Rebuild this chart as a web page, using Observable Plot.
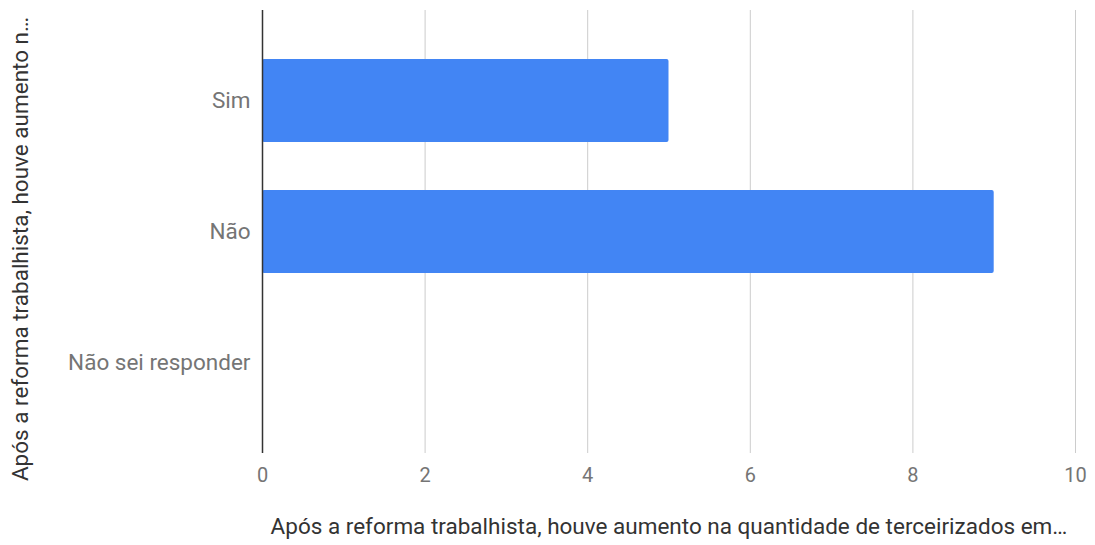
<!DOCTYPE html>
<html>
<head>
<meta charset="utf-8">
<script src="https://cdn.jsdelivr.net/npm/d3@7"></script>
<script src="https://cdn.jsdelivr.net/npm/@observablehq/plot@0.6"></script>
<style>
  html, body { margin: 0; padding: 0; background: #fff; }
  #chart svg { display: block; }
</style>
</head>
<body>
<div id="chart"></div>
<script>
const categories = ["Sim", "Não", "Não sei responder"];
const counts = [5, 9, 0];
const xTicks = [0, 2, 4, 6, 8, 10];
const xTitle = "Após a reforma trabalhista, houve aumento na quantidade de terceirizados em…";
const yTitle = "Após a reforma trabalhista, houve aumento n…";

const data = categories.map((c, i) => ({category: c, value: counts[i]}));

const chart = Plot.plot({
  width: 1095,
  height: 545,
  marginLeft: 262,
  marginRight: 20,
  marginTop: 10,
  marginBottom: 92,
  style: {fontFamily: "Roboto, 'Noto Sans', sans-serif", background: "#fff"},
  x: {domain: [0, 10], ticks: xTicks, label: null},
  y: {domain: categories, padding: 0.37, label: null},
  marks: [
    Plot.gridX(xTicks.filter(t => t !== 0), {stroke: "#cccccc", strokeOpacity: 1, strokeWidth: 1}),
    Plot.barX(data.filter(d => d.value > 0), {x: "value", y: "category", fill: "#4285f4", rx: 2}),
    Plot.ruleX([0], {stroke: "#333333", strokeWidth: 1.5}),
    Plot.axisX({ticks: xTicks, tickSize: 0, tickPadding: 14, fontSize: 20, fill: "#757575", label: null}),
    Plot.axisY({tickSize: 0, tickPadding: 12, fontSize: 22.5, fill: "#757575", label: null}),
    Plot.text([xTitle], {text: d => d, frameAnchor: "bottom", dy: 80, fontSize: 22.5, fill: "#333333"}),
    Plot.text([yTitle], {text: d => d, frameAnchor: "left", textAnchor: "middle", dx: -242, dy: 17, rotate: -90, fontSize: 22.5, fill: "#333333"})
  ]
});
document.getElementById("chart").appendChild(chart);
</script>
</body>
</html>
